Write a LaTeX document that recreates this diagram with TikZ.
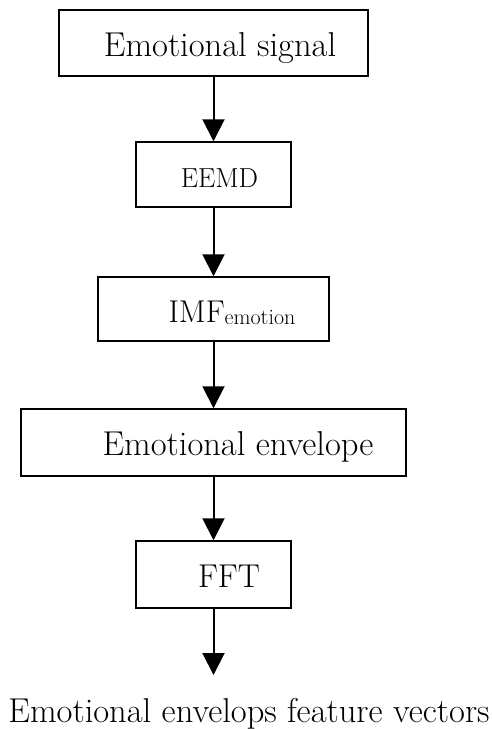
\documentclass[tikz,border=0pt]{standalone}
\usepackage{tikz}
\usetikzlibrary{shapes,arrows.meta}
\tikzstyle{box} = [draw, rectangle, line width=1.5pt, inner sep=0pt, text height=28pt, text depth=2pt, font=\fontsize{34.5}{40}\selectfont]
\tikzstyle{line} = [draw, line width=2pt, -{Triangle[length=22pt,width=22pt]}]

\begin{document}
\begin{tikzpicture}[x=1pt, y=-1pt]
                \useasboundingbox (0,0) rectangle (491,729);
                \node [box, minimum width=309pt, minimum height=66pt] (signal) at (213.5,43) {\hspace*{13pt}Emotional signal};
                \node [box, minimum width=155pt, minimum height=65pt, font=\fontsize{27.5}{32}\selectfont] (eemd) at (213.5,174.5) {\hspace*{12pt}EEMD};
                \node [box, minimum width=231pt, minimum height=64pt, font=\fontsize{31.5}{36}\selectfont] (imf) at (213.5,309) {\hspace*{37pt}IMF{\fontsize{22}{26}\selectfont\raisebox{-2pt}{emotion}}};
                \node [box, minimum width=385pt, minimum height=67pt] (envelope) at (213.5,442.5) {\hspace*{49pt}Emotional envelope};
                \node [box, minimum width=155pt, minimum height=67pt, font=\fontsize{33}{38}\selectfont] (fft) at (213.5,574.5) {\hspace*{31pt}FFT};
                \node [anchor=base, inner sep=0pt, font=\fontsize{34.5}{40}\selectfont] (vectors) at (249,722) {Emotional envelops feature vectors};
                \coordinate (tip) at (213.5,675);
                \path [line] (signal) -- (eemd);
                \path [line] (eemd) -- (imf);
                \path [line] (imf) -- (envelope);
                \path [line] (envelope) -- (fft);
                \path [line] (fft) -- (tip);
\end{tikzpicture}
\end{document}
